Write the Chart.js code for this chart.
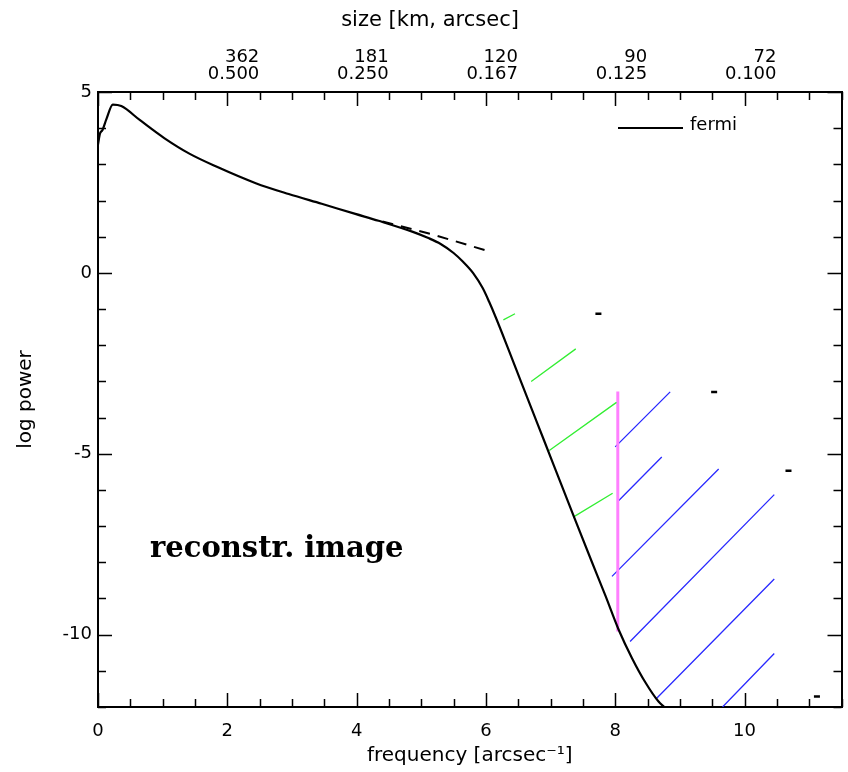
<!DOCTYPE html>
<html>
<head>
<meta charset="utf-8">
<script src="https://cdn.jsdelivr.net/npm/chart.js@4.4.0/dist/chart.umd.min.js"></script>
<style>
  html, body { margin: 0; padding: 0; background: #fff; }
</style>
</head>
<body>
<canvas id="powerChart" width="848" height="772"></canvas>
<script>
// spectrum of the reconstructed image (fermi)
const freq = [0.00, 0.03, 0.07, 0.13, 0.23, 0.36, 0.65, 1.03, 1.42, 1.83, 2.44, 2.95, 3.46, 3.98, 4.34,
              4.86, 5.10, 5.30, 5.50, 5.65, 5.80, 5.95, 6.05, 6.15, 6.35, 6.55, 6.80, 7.05, 7.37, 7.63, 7.85,
              8.05, 8.26, 8.47, 8.67, 8.76];
const logPower = [3.55, 3.85, 3.95, 4.25, 4.65, 4.61, 4.22, 3.72, 3.29, 2.94, 2.48, 2.18, 1.91, 1.63, 1.44,
                  1.14, 0.97, 0.80, 0.55, 0.30, 0.00, -0.42, -0.80, -1.22, -2.12, -3.04, -4.18, -5.32, -6.78, -7.95, -8.93,
                  -9.85, -10.65, -11.33, -11.85, -12.00];

// dashed extension
const dashFreq = [4.40, 5.20, 6.00];
const dashPower = [1.42, 1.05, 0.62];

// hatch segments [x0, y0, x1, y1]
const greenHatch = [
  [6.27, -1.30, 6.45, -1.13],
  [6.70, -3.00, 7.39, -2.10],
  [6.98, -4.91, 8.02, -3.58],
  [7.35, -6.75, 7.96, -6.09]
];
const magentaLine = [[8.04, -3.28, 8.04, -9.91]];
const blueHatch = [
  [8.00, -4.81, 8.85, -3.29],
  [8.04, -6.32, 8.72, -5.09],
  [7.95, -8.39, 9.60, -5.42],
  [8.23, -10.19, 10.46, -6.13],
  [8.63, -11.78, 10.46, -8.46],
  [9.66, -12.00, 10.46, -10.52]
];
const specks = [[7.74, -1.13], [9.53, -3.29], [10.68, -5.47], [11.12, -11.71]];

// axes
const xTicks = [0, 2, 4, 6, 8, 10];
const yTicks = [5, 0, -5, -10];
const topTicks = [2, 4, 6, 8, 10];
const topKm = ['362', '181', '120', '90', '72'];
const topArcsec = ['0.500', '0.250', '0.167', '0.125', '0.100'];

const FONT = 'DejaVu Sans';

function toSegments(list) {
  const out = [];
  list.forEach(s => {
    out.push({ x: s[0], y: s[1] }, { x: s[2], y: s[3] }, { x: s[2], y: null });
  });
  return out;
}

// inward ticks, top labels, legend and note
const decor = {
  id: 'decor',
  afterDraw(chart) {
    const { ctx, chartArea: a, scales } = chart;
    const sx = scales.x, sy = scales.y;
    ctx.save();
    ctx.strokeStyle = '#000';
    ctx.lineWidth = 1.5;
    ctx.beginPath();
    for (let i = 0; i * 0.5 <= 11.5; i++) {
      const px = Math.round(sx.getPixelForValue(i * 0.5)) + 0.5;
      const len = i % 4 === 0 ? 14 : 8;
      ctx.moveTo(px, a.bottom); ctx.lineTo(px, a.bottom - len);
      ctx.moveTo(px, a.top); ctx.lineTo(px, a.top + len);
    }
    for (let v = -12; v <= 5; v++) {
      const py = Math.round(sy.getPixelForValue(v)) + 0.5;
      const len = v % 5 === 0 ? 14 : 8;
      ctx.moveTo(a.left, py); ctx.lineTo(a.left + len, py);
      ctx.moveTo(a.right, py); ctx.lineTo(a.right - len, py);
    }
    ctx.stroke();

    // top axis labels
    ctx.fillStyle = '#000';
    ctx.font = '18px "' + FONT + '"';
    ctx.textAlign = 'right';
    ctx.textBaseline = 'middle';
    topTicks.forEach((v, i) => {
      const px = sx.getPixelForValue(v) + 32;
      ctx.fillText(topKm[i], px, 57);
      ctx.fillText(topArcsec[i], px, 74);
    });
    ctx.textAlign = 'center';
    ctx.font = '21px "' + FONT + '"';
    ctx.fillText('size [km, arcsec]', 430, 21);

    // legend
    ctx.lineWidth = 2;
    ctx.beginPath();
    ctx.moveTo(618, 128); ctx.lineTo(683, 128);
    ctx.stroke();
    ctx.font = '18px "' + FONT + '"';
    ctx.textAlign = 'left';
    ctx.textBaseline = 'alphabetic';
    ctx.fillText('fermi', 690, 130);

    // note
    ctx.font = 'bold 29px "DejaVu Serif"';
    ctx.fillText('reconstr. image', 150, 557);
    ctx.restore();
  }
};

const tickFont = { family: FONT, size: 18 };
const titleFont = { family: FONT, size: 20 };

new Chart(document.getElementById('powerChart').getContext('2d'), {
  type: 'scatter',
  data: {
    datasets: [
      {
        label: 'fermi',
        data: freq.map((f, i) => ({ x: f, y: logPower[i] })),
        showLine: true,
        borderColor: '#000',
        borderWidth: 2.2,
        pointRadius: 0,
        cubicInterpolationMode: 'monotone'
      },
      {
        label: 'extension',
        data: dashFreq.map((f, i) => ({ x: f, y: dashPower[i] })),
        showLine: true,
        borderColor: '#000',
        borderWidth: 2,
        borderDash: [11, 8],
        pointRadius: 0
      },
      {
        label: 'green',
        data: toSegments(greenHatch),
        showLine: true,
        spanGaps: false,
        borderColor: '#33ee33',
        borderWidth: 1.3,
        pointRadius: 0
      },
      {
        label: 'cut',
        data: toSegments(magentaLine),
        showLine: true,
        spanGaps: false,
        borderColor: '#ff80ff',
        borderWidth: 3,
        pointRadius: 0
      },
      {
        label: 'blue',
        data: toSegments(blueHatch),
        showLine: true,
        spanGaps: false,
        borderColor: '#2a2aff',
        borderWidth: 1.3,
        pointRadius: 0
      },
      {
        label: 'specks',
        data: specks.map(p => ({ x: p[0], y: p[1] })),
        showLine: false,
        pointStyle: 'line',
        pointRadius: 3,
        borderColor: '#000',
        borderWidth: 2.5
      }
    ]
  },
  options: {
    responsive: false,
    animation: false,
    layout: { padding: 0 },
    plugins: {
      legend: { display: false },
      tooltip: { enabled: false }
    },
    scales: {
      x: {
        type: 'linear',
        position: 'bottom',
        min: 0,
        max: 11.5,
        afterBuildTicks: s => { s.ticks = xTicks.map(v => ({ value: v })); },
        afterFit: s => { s.height = 65; },
        grid: { display: false, drawTicks: false },
        border: { display: true, color: '#000', width: 2 },
        ticks: { color: '#000', font: tickFont, padding: 14, maxRotation: 0, autoSkip: false },
        title: { display: true, text: 'frequency [arcsec⁻¹]', color: '#000', font: titleFont, padding: { top: 0, bottom: 4 } }
      },
      x2: {
        type: 'linear',
        position: 'top',
        min: 0,
        max: 11.5,
        afterFit: s => { s.height = 92; },
        grid: { display: false, drawTicks: false },
        border: { display: true, color: '#000', width: 2 },
        ticks: { display: false }
      },
      y: {
        type: 'linear',
        position: 'left',
        min: -12,
        max: 5,
        afterBuildTicks: s => { s.ticks = yTicks.map(v => ({ value: v })); },
        afterFit: s => { s.width = 98; },
        grid: { display: false, drawTicks: false },
        border: { display: true, color: '#000', width: 2 },
        ticks: { color: '#000', font: tickFont, padding: 6 },
        title: { display: true, text: 'log power', color: '#000', font: titleFont, padding: { top: 14, bottom: 0 } }
      },
      y2: {
        type: 'linear',
        position: 'right',
        min: -12,
        max: 5,
        afterFit: s => { s.width = 3; },
        grid: { display: false, drawTicks: false },
        border: { display: true, color: '#000', width: 2 },
        ticks: { display: false }
      }
    }
  },
  plugins: [decor]
});
</script>
</body>
</html>
